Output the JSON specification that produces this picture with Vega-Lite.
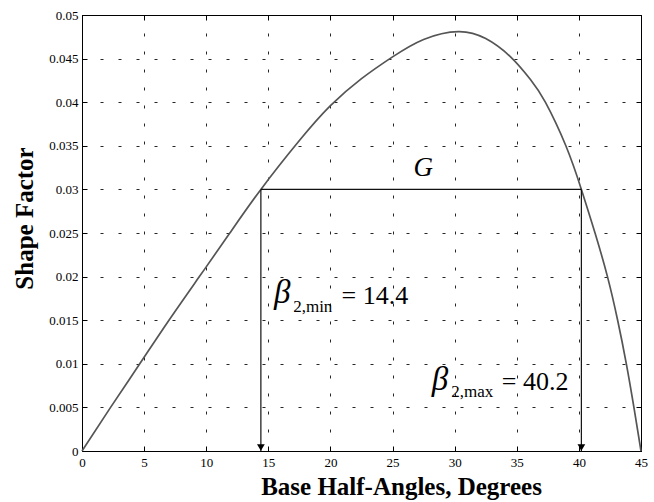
{
  "$schema": "https://vega.github.io/schema/vega-lite/v6.json",
  "width": 559,
  "height": 436,
  "autosize": {"type": "none"},
  "padding": {"left": 82, "top": 15, "right": 13, "bottom": 51},
  "background": "white",
  "config": {
    "view": {"stroke": "#000", "strokeWidth": 1},
    "axis": {
      "labelFont": "Liberation Serif",
      "labelFontSize": 13,
      "labelColor": "#000",
      "titleFont": "Liberation Serif",
      "titleFontSize": 25,
      "titleFontWeight": "bold",
      "titleColor": "#000",
      "domainColor": "#000",
      "tickColor": "#000",
      "gridColor": "#000",
      "gridDash": [3, 15],
      "gridWidth": 1,
      "gridOpacity": 0.85
    }
  },
  "datasets": {
    "curve": [
      {"beta": 0, "factor": 0},
      {"beta": 2.3, "factor": 0.005},
      {"beta": 4.65, "factor": 0.010},
      {"beta": 7.0, "factor": 0.015},
      {"beta": 9.45, "factor": 0.020},
      {"beta": 11.9, "factor": 0.025},
      {"beta": 14.4, "factor": 0.030},
      {"beta": 17.5, "factor": 0.0356},
      {"beta": 20.0, "factor": 0.0396},
      {"beta": 22.5, "factor": 0.0427},
      {"beta": 25.0, "factor": 0.0452},
      {"beta": 27.5, "factor": 0.0472},
      {"beta": 30.3, "factor": 0.0481},
      {"beta": 32.5, "factor": 0.0473},
      {"beta": 34.5, "factor": 0.0452},
      {"beta": 36.1, "factor": 0.0426},
      {"beta": 37.3, "factor": 0.040},
      {"beta": 38.95, "factor": 0.035},
      {"beta": 40.2, "factor": 0.030},
      {"beta": 41.3, "factor": 0.025},
      {"beta": 42.3, "factor": 0.020},
      {"beta": 43.12, "factor": 0.015},
      {"beta": 43.82, "factor": 0.010},
      {"beta": 44.43, "factor": 0.005},
      {"beta": 45, "factor": 0}
    ],
    "span": [{"b1": 14.4, "b2": 40.2, "level": 0.03}],
    "limits": [
      {"beta": 14.4, "level": 0.03, "base": 0, "head": 0.0004},
      {"beta": 40.2, "level": 0.03, "base": 0, "head": 0.0004}
    ],
    "gapLabel": [{"beta": 27.48, "factor": 0.0315, "text": "G"}],
    "symbol": [
      {"beta": 15.45, "factor": 0.0170, "text": "β"},
      {"beta": 28.15, "factor": 0.0070, "text": "β"}
    ],
    "subscript": [
      {"beta": 17.0, "factor": 0.0159, "text": "2,min"},
      {"beta": 29.72, "factor": 0.0062, "text": "2,max"}
    ],
    "values": [
      {"beta": 20.9, "factor": 0.0169, "text": "= 14.4"},
      {"beta": 33.79, "factor": 0.0070, "text": "= 40.2"}
    ]
  },
  "resolve": {"axis": {"x": "independent", "y": "independent"}},
  "layer": [
    {
      "data": {"name": "curve"},
      "mark": {"type": "line", "color": "#555", "strokeWidth": 1.7, "interpolate": "natural"},
      "encoding": {
        "x": {
          "field": "beta",
          "type": "quantitative",
          "scale": {"domain": [0, 45], "nice": false, "zero": false},
          "axis": {
            "title": "Base Half-Angles, Degrees",
            "values": [0, 5, 10, 15, 20, 25, 30, 35, 40, 45],
            "tickSize": -5,
            "labelPadding": 10,
            "labelFlush": false,
            "titleX": 319,
            "titleY": 43,
            "titleAlign": "center",
            "titleBaseline": "alphabetic",
            "grid": true
          }
        },
        "y": {
          "field": "factor",
          "type": "quantitative",
          "scale": {"domain": [0, 0.05], "nice": false},
          "axis": {
            "title": "Shape Factor",
            "values": [0, 0.005, 0.01, 0.015, 0.02, 0.025, 0.03, 0.035, 0.04, 0.045, 0.05],
            "format": ".3~f",
            "tickSize": -5,
            "labelPadding": 9,
            "labelFlush": false,
            "titleX": -50,
            "titleY": 203,
            "titleAngle": -90,
            "titleAlign": "center",
            "titleBaseline": "alphabetic",
            "grid": true
          }
        }
      }
    },
    {
      "data": {"name": "span"},
      "mark": {"type": "rule", "color": "#111", "strokeWidth": 1.3},
      "encoding": {
        "x": {"field": "b1", "type": "quantitative", "axis": null},
        "x2": {"field": "b2"},
        "y": {"field": "level", "type": "quantitative", "axis": null}
      }
    },
    {
      "data": {"name": "limits"},
      "mark": {"type": "rule", "color": "#111", "strokeWidth": 1.2},
      "encoding": {
        "x": {"field": "beta", "type": "quantitative", "axis": null},
        "y": {"field": "level", "type": "quantitative", "axis": null},
        "y2": {"field": "base"}
      }
    },
    {
      "data": {"name": "limits"},
      "mark": {"type": "point", "shape": "triangle-down", "filled": true, "color": "#000", "size": 60, "opacity": 1},
      "encoding": {
        "x": {"field": "beta", "type": "quantitative", "axis": null},
        "y": {"field": "head", "type": "quantitative", "axis": null}
      }
    },
    {
      "data": {"name": "gapLabel"},
      "mark": {"type": "text", "font": "Liberation Serif", "fontSize": 27, "fontStyle": "italic", "align": "center", "baseline": "alphabetic", "color": "#000"},
      "encoding": {
        "x": {"field": "beta", "type": "quantitative", "axis": null},
        "y": {"field": "factor", "type": "quantitative", "axis": null},
        "text": {"field": "text"}
      }
    },
    {
      "data": {"name": "symbol"},
      "mark": {"type": "text", "font": "Liberation Serif", "fontSize": 33, "fontStyle": "italic", "align": "left", "baseline": "alphabetic", "color": "#000"},
      "encoding": {
        "x": {"field": "beta", "type": "quantitative", "axis": null},
        "y": {"field": "factor", "type": "quantitative", "axis": null},
        "text": {"field": "text"}
      }
    },
    {
      "data": {"name": "subscript"},
      "mark": {"type": "text", "font": "Liberation Serif", "fontSize": 17, "align": "left", "baseline": "alphabetic", "color": "#000"},
      "encoding": {
        "x": {"field": "beta", "type": "quantitative", "axis": null},
        "y": {"field": "factor", "type": "quantitative", "axis": null},
        "text": {"field": "text"}
      }
    },
    {
      "data": {"name": "values"},
      "mark": {"type": "text", "font": "Liberation Serif", "fontSize": 26, "align": "left", "baseline": "alphabetic", "color": "#000"},
      "encoding": {
        "x": {"field": "beta", "type": "quantitative", "axis": null},
        "y": {"field": "factor", "type": "quantitative", "axis": null},
        "text": {"field": "text"}
      }
    },
    {
      "data": {"name": "curve"},
      "mark": {"type": "point", "opacity": 0},
      "encoding": {
        "x": {
          "field": "beta",
          "type": "quantitative",
          "axis": {
            "orient": "top",
            "values": [0, 5, 10, 15, 20, 25, 30, 35, 40, 45],
            "tickSize": -5,
            "labels": false,
            "domain": false,
            "grid": false,
            "title": null
          }
        },
        "y": {
          "field": "factor",
          "type": "quantitative",
          "axis": {
            "orient": "right",
            "values": [0, 0.005, 0.01, 0.015, 0.02, 0.025, 0.03, 0.035, 0.04, 0.045, 0.05],
            "tickSize": -5,
            "labels": false,
            "domain": false,
            "grid": false,
            "title": null
          }
        }
      }
    }
  ]
}
